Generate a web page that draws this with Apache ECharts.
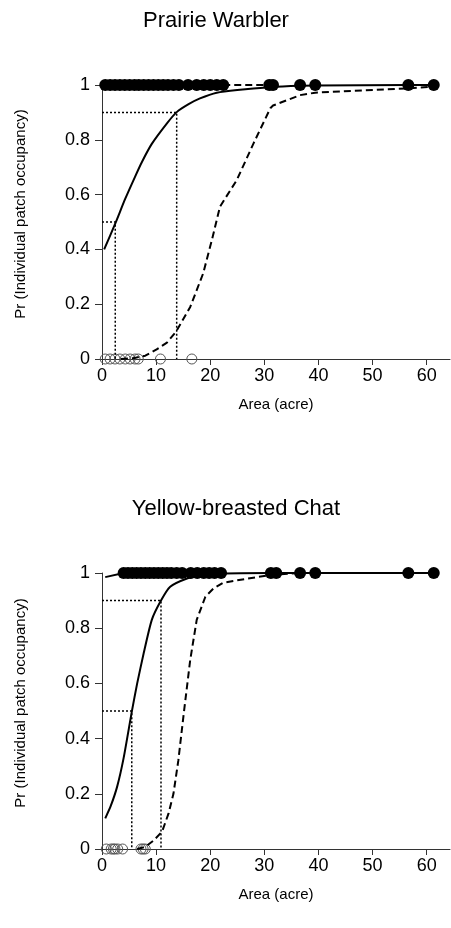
<!DOCTYPE html>
<html><head><meta charset="utf-8">
<script src="https://cdn.jsdelivr.net/npm/echarts@6/dist/echarts.min.js"></script>
<style>html,body{margin:0;padding:0;background:#fff}#c{width:451px;height:928px}</style>
</head><body><div id="c"></div>
<script>
// ---- shared ----
const titles = ['Prairie Warbler', 'Yellow-breasted Chat'];
const xTicks = [0, 10, 20, 30, 40, 50, 60];
const xLabel = 'Area (acre)';
const yLabel = 'Pr (Individual patch occupancy)';

// ---- Prairie Warbler ----
const pwPresent = [0.6, 1.5, 2.4, 3.3, 4.2, 5.1, 6.0, 6.8, 7.7, 8.6, 9.5, 10.4, 11.3, 12.2, 13.2, 14.2, 15.9, 17.5, 18.8, 20.0, 21.2, 22.4, 30.9, 31.6, 36.6, 39.4, 56.6, 61.3];
const pwAbsent = [0.6, 1.5, 2.4, 3.3, 4.3, 5.2, 6.1, 6.7, 10.8, 16.6];
const pwSolid = [[0.4, 0.40], [2.5, 0.497], [4.3, 0.585], [6.1, 0.665], [7.4, 0.72], [9.2, 0.785], [12.0, 0.86], [13.8, 0.901], [16.0, 0.93], [18.1, 0.951], [21.2, 0.972], [25.0, 0.982], [31.1, 0.992], [36.6, 0.997], [39.4, 0.998], [56.6, 1.0], [61.3, 1.0]];
const pwDashed = [[3.5, 0.0], [5.8, 0.003], [8.0, 0.012], [10.1, 0.035], [12.0, 0.06], [13.7, 0.1], [16.3, 0.19], [18.7, 0.313], [20.3, 0.434], [21.8, 0.556], [24.9, 0.653], [28.0, 0.787], [31.1, 0.915], [31.6, 0.925], [36.6, 0.963], [39.4, 0.972], [56.6, 0.988], [61.3, 0.994]];
const pwDashedTop = [[22.4, 1.0], [30.9, 1.0]];
const pwRef90 = [[0, 0.9], [13.8, 0.9], [13.8, 0]];
const pwRef50 = [[0, 0.5], [2.45, 0.5], [2.45, 0]];

// ---- Yellow-breasted Chat ----
const ybPresent = [4.0, 4.8, 5.6, 6.4, 7.2, 8.0, 8.8, 9.6, 10.4, 11.2, 12.0, 12.8, 13.8, 14.8, 16.4, 17.6, 18.8, 19.8, 20.8, 22.0, 31.2, 32.2, 36.6, 39.4, 56.6, 61.3];
const ybAbsent = [0.8, 1.7, 2.1, 2.4, 2.9, 3.8, 7.2, 7.6, 8.0];
const ybSolid = [[0.6, 0.111], [1.6, 0.155], [2.8, 0.226], [4.0, 0.33], [5.5, 0.497], [6.5, 0.6], [7.7, 0.709], [9.2, 0.83], [10.9, 0.9], [12.6, 0.95], [15.7, 0.98], [18.1, 0.99], [22.0, 0.998], [31.0, 1.0], [61.3, 1.0]];
const ybSolidTop = [[0.6, 0.985], [4.0, 1.0]];
const ybDashed = [[6.5, 0.0], [8.0, 0.008], [9.5, 0.03], [11.1, 0.063], [12.3, 0.129], [13.2, 0.2], [14.1, 0.32], [15.1, 0.49], [16.3, 0.685], [17.5, 0.83], [19.1, 0.914], [20.6, 0.944], [22.4, 0.965], [31.1, 0.993], [36.6, 1.0], [61.3, 1.0]];
const ybRef90 = [[0, 0.9], [10.9, 0.9], [10.9, 0]];
const ybRef50 = [[0, 0.5], [5.5, 0.5], [5.5, 0]];

const FONT = 'Liberation Sans, Arial, sans-serif';
const panels = [
  {present: pwPresent, absent: pwAbsent, solid: [pwSolid], dashed: [pwDashed, pwDashedTop], refs: [pwRef90, pwRef50], top: 85, height: 274, titleY: 21},
  {present: ybPresent, absent: ybAbsent, solid: [ybSolid, ybSolidTop], dashed: [ybDashed], refs: [ybRef90, ybRef50], top: 573, height: 276, titleY: 509}
];

const grid = [], xAxis = [], yAxis = [], series = [], graphic = [];
panels.forEach((p, i) => {
  grid.push({left: 102, top: p.top, width: 348, height: p.height});
  xAxis.push({
    gridIndex: i, type: 'value', min: 0, max: 64.3,
    name: xLabel, nameLocation: 'middle', nameGap: 38,
    nameTextStyle: {fontFamily: FONT, fontSize: 15, color: '#000'},
    axisLine: {lineStyle: {color: '#333', width: 1}},
    axisTick: {show: true, length: 6, lineStyle: {color: '#333'}, customValues: xTicks},
    axisLabel: {fontFamily: FONT, fontSize: 18, color: '#000', margin: 8, customValues: xTicks},
    splitLine: {show: false}
  });
  yAxis.push({
    gridIndex: i, type: 'value', min: 0, max: 1, interval: 0.2,
    axisLine: {show: true, lineStyle: {color: '#333', width: 1}},
    axisTick: {show: true, length: 7, lineStyle: {color: '#333'}},
    axisLabel: {fontFamily: FONT, fontSize: 18, color: '#000', margin: 12},
    splitLine: {show: false}
  });
  p.refs.forEach(r => series.push({type: 'line', xAxisIndex: i, yAxisIndex: i, data: r, symbol: 'none', silent: true,
    lineStyle: {color: '#000', width: 1.5, type: [2, 2]}}));
  p.solid.forEach(d => series.push({type: 'line', xAxisIndex: i, yAxisIndex: i, data: d, symbol: 'none', smooth: 0.2,
    lineStyle: {color: '#000', width: 2}}));
  p.dashed.forEach(d => series.push({type: 'line', xAxisIndex: i, yAxisIndex: i, data: d, symbol: 'none', smooth: false,
    lineStyle: {color: '#000', width: 2, type: [7, 4]}}));
  series.push({type: 'scatter', xAxisIndex: i, yAxisIndex: i, data: p.absent.map(x => [x, 0]), symbol: 'circle', symbolSize: 10,
    itemStyle: {color: 'rgba(255,255,255,0)', borderColor: '#555', borderWidth: 1, opacity: 1}});
  series.push({type: 'scatter', xAxisIndex: i, yAxisIndex: i, data: p.present.map(x => [x, 1]), symbol: 'circle', symbolSize: 12,
    itemStyle: {color: '#000', opacity: 1}});
  graphic.push({type: 'text', x: 216 + i * 20, y: p.titleY, style: {text: titles[i], font: '22px ' + FONT, fill: '#000', textAlign: 'center', textVerticalAlign: 'middle'}});
  graphic.push({type: 'text', x: 21, y: p.top + p.height / 2 - 8, rotation: Math.PI / 2,
    style: {text: yLabel, font: '15px ' + FONT, fill: '#000', textAlign: 'center', textVerticalAlign: 'middle'}});
});

const chart = echarts.init(document.getElementById('c'), null, {renderer: 'canvas'});
chart.setOption({animation: false, backgroundColor: '#fff', grid, xAxis, yAxis, series, graphic});
</script>
</body></html>
